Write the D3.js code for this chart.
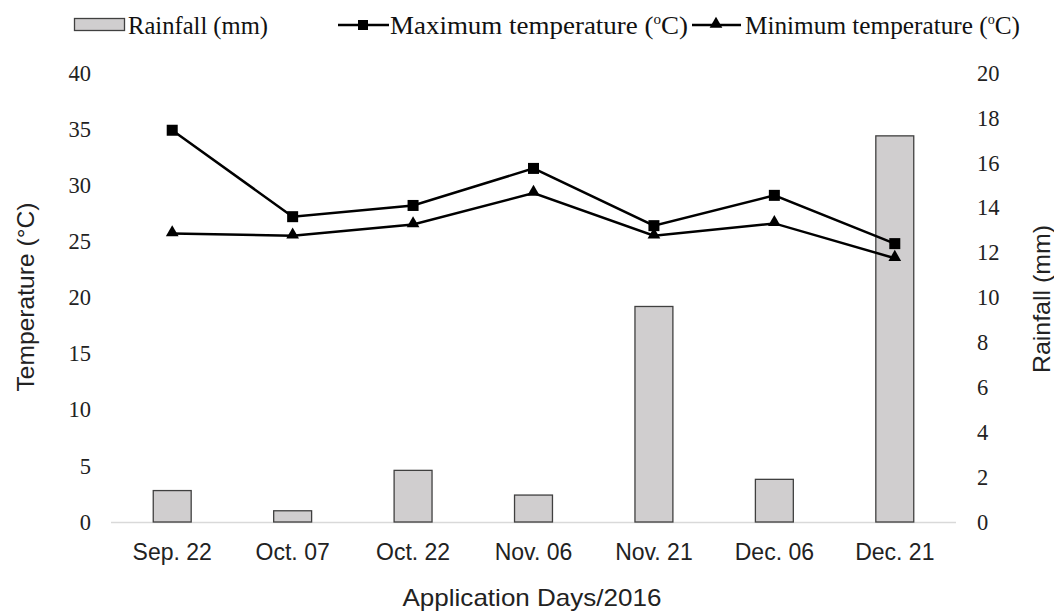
<!DOCTYPE html>
<html>
<head>
<meta charset="utf-8">
<script src="https://cdnjs.cloudflare.com/ajax/libs/d3/7.8.5/d3.min.js"></script>
<style>
  body { margin: 0; background: #fff; }
</style>
</head>
<body>
<script>
var days = ["Sep. 22", "Oct. 07", "Oct. 22", "Nov. 06", "Nov. 21", "Dec. 06", "Dec. 21"];
var rainfall = [1.4, 0.5, 2.3, 1.2, 9.6, 1.9, 17.2];
var maxTemp = [34.9, 27.2, 28.2, 31.5, 26.4, 29.1, 24.8];
var minTemp = [25.7, 25.5, 26.5, 29.3, 25.5, 26.6, 23.5];
var tempTicks = [0, 5, 10, 15, 20, 25, 30, 35, 40];
var rainTicks = [0, 2, 4, 6, 8, 10, 12, 14, 16, 18, 20];

var w = 1054;
var h = 612;
// plot edges (window.top is reserved, so prefixed names)
var pLeft = 112, pRight = 955, pTop = 73, pBottom = 522;
var serif = "'Liberation Serif', 'Times New Roman', serif";
var sans = "'Liberation Sans', Arial, sans-serif";

var svg = d3.select("body")
  .append("svg")
  .attr("width", w)
  .attr("height", h);

var x = d3.scaleBand()
  .domain(days)
  .range([pLeft, pRight])
  .paddingInner(0.685)
  .paddingOuter(0.3425);

var yT = d3.scaleLinear().domain([0, 40]).range([pBottom, pTop]);
var yR = d3.scaleLinear().domain([0, 20]).range([pBottom, pTop]);

// axes
var leftAxis = svg.append("g")
  .attr("transform", "translate(" + (pLeft - 21) + ",0)")
  .call(d3.axisLeft(yT).tickValues(tempTicks).tickSize(0).tickPadding(0));
leftAxis.select(".domain").remove();

var rightAxis = svg.append("g")
  .attr("transform", "translate(" + (pRight + 22) + ",0)")
  .call(d3.axisRight(yR).tickValues(rainTicks).tickSize(0).tickPadding(0));
rightAxis.select(".domain").remove();

svg.selectAll(".tick text")
  .style("font-family", serif)
  .style("font-size", "22.5px")
  .attr("fill", "#222");

var bottomAxis = svg.append("g")
  .attr("transform", "translate(0," + pBottom + ")")
  .call(d3.axisBottom(x).tickSize(0).tickPadding(22));
bottomAxis.select(".domain").remove();
bottomAxis.selectAll("text")
  .style("font-family", sans)
  .style("font-size", "23px")
  .attr("fill", "#222");

svg.append("line")
  .attr("x1", pLeft - 1).attr("x2", pRight + 1)
  .attr("y1", pBottom + 0.5).attr("y2", pBottom + 0.5)
  .attr("stroke", "#d9d9d9")
  .attr("stroke-width", 1.5);

// rainfall bars
svg.selectAll("rect.bar")
  .data(rainfall)
  .enter()
  .append("rect")
  .attr("class", "bar")
  .attr("x", function(d, i) { return x(days[i]); })
  .attr("width", x.bandwidth())
  .attr("y", function(d) { return yR(d); })
  .attr("height", function(d) { return pBottom - yR(d); })
  .attr("fill", "#d0cecf")
  .attr("stroke", "#404040")
  .attr("stroke-width", 1.3);

var cx = function(d, i) { return x(days[i]) + x.bandwidth() / 2; };

var line = d3.line()
  .x(cx)
  .y(function(d) { return yT(d); });

[maxTemp, minTemp].forEach(function(series) {
  svg.append("path")
    .datum(series)
    .attr("d", line)
    .attr("fill", "none")
    .attr("stroke", "#000")
    .attr("stroke-width", 2.5);
});

svg.selectAll("rect.sq")
  .data(maxTemp)
  .enter()
  .append("rect")
  .attr("class", "sq")
  .attr("x", function(d, i) { return cx(d, i) - 5.5; })
  .attr("y", function(d) { return yT(d) - 5.5; })
  .attr("width", 11)
  .attr("height", 11)
  .attr("fill", "#000");

var tri = d3.symbol().type(d3.symbolTriangle).size(70);
svg.selectAll("path.tri")
  .data(minTemp)
  .enter()
  .append("path")
  .attr("class", "tri")
  .attr("d", tri)
  .attr("transform", function(d, i) { return "translate(" + cx(d, i) + "," + (yT(d) - 1) + ")"; })
  .attr("fill", "#000");

// axis titles
svg.append("text")
  .attr("transform", "translate(34," + 297 + ") rotate(-90)")
  .attr("text-anchor", "middle")
  .style("font-family", sans)
  .style("font-size", "24px")
  .attr("fill", "#222")
  .attr("textLength", 189)
  .attr("lengthAdjust", "spacingAndGlyphs")
  .text("Temperature (\u00B0C)");

svg.append("text")
  .attr("transform", "translate(1050," + 299 + ") rotate(-90)")
  .attr("text-anchor", "middle")
  .style("font-family", sans)
  .style("font-size", "24px")
  .attr("fill", "#222")
  .attr("textLength", 148)
  .attr("lengthAdjust", "spacingAndGlyphs")
  .text("Rainfall (mm)");

svg.append("text")
  .attr("x", 532)
  .attr("y", 606)
  .attr("text-anchor", "middle")
  .style("font-family", sans)
  .style("font-size", "24px")
  .attr("fill", "#222")
  .attr("textLength", 259)
  .attr("lengthAdjust", "spacingAndGlyphs")
  .text("Application Days/2016");

// legend
svg.append("rect")
  .attr("x", 74.5).attr("y", 18.5)
  .attr("width", 50).attr("height", 12)
  .attr("fill", "#d0cecf")
  .attr("stroke", "#404040")
  .attr("stroke-width", 1.3);

function legendText(x0, len, label, sup) {
  var t = svg.append("text")
    .attr("x", x0)
    .attr("y", 34)
    .style("font-family", serif)
    .style("font-size", "25px")
    .attr("fill", "#111")
    .attr("textLength", len)
    .attr("lengthAdjust", "spacingAndGlyphs");
  t.append("tspan").text(label);
  if (sup) {
    t.append("tspan").text("o").style("font-size", "14px").attr("dy", -10);
    t.append("tspan").text("C)").attr("dy", 10);
  }
}
legendText(128, 140, "Rainfall (mm)", false);

svg.append("line").attr("x1", 338).attr("x2", 389).attr("y1", 25).attr("y2", 25)
  .attr("stroke", "#000").attr("stroke-width", 2.5);
svg.append("rect").attr("x", 358).attr("y", 20).attr("width", 10).attr("height", 10).attr("fill", "#000");
legendText(390, 298, "Maximum temperature (", true);

svg.append("line").attr("x1", 692).attr("x2", 741).attr("y1", 25).attr("y2", 25)
  .attr("stroke", "#000").attr("stroke-width", 2.5);
svg.append("path").attr("d", tri).attr("transform", "translate(716,24)").attr("fill", "#000");
legendText(745, 275, "Minimum temperature (", true);
</script>
</body>
</html>
